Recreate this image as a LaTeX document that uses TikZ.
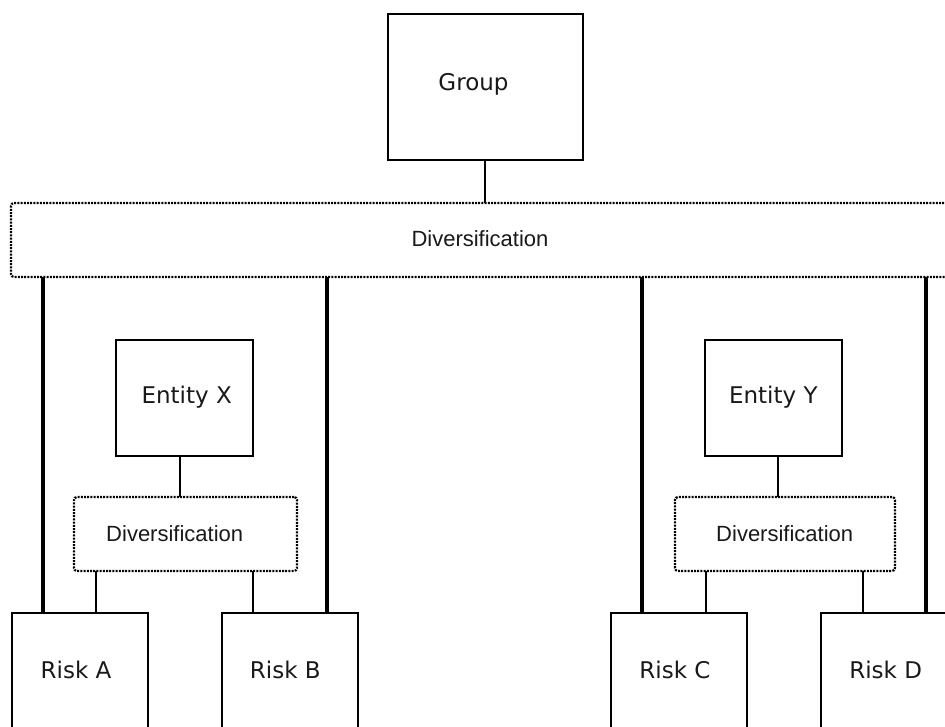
\documentclass[tikz,border=0pt]{standalone}
\usepackage{fontspec}
\newfontfamily\boxfont{DejaVu Sans}
\newfontfamily\divfont{Liberation Sans}
\begin{document}
\begin{tikzpicture}[x=1pt,y=-1pt,
  solidbox/.style={draw, line width=1.5pt, rectangle, inner sep=0pt, outer sep=0pt},
  dotbox/.style={draw, line width=2.2pt, dash pattern=on 2pt off 1.2pt,
    rounded corners=3pt, rectangle, inner sep=0pt, outer sep=0pt},
  thinlink/.style={line width=1.5pt},
  thicklink/.style={line width=4pt},
  boxlabel/.style={anchor=base, inner sep=0pt, text=black!90, font=\boxfont\fontsize{23}{27}\selectfont},
  divlabel/.style={anchor=base, inner sep=0pt, text=black!90, font=\divfont\fontsize{22}{26}\selectfont}]
\useasboundingbox (0,0) rectangle (945,726);
\clip (0,0) rectangle (945,726);
\fill[white] (0,0) rectangle (945,726);

% boxes
\node[solidbox, minimum width=195pt, minimum height=146pt] (group) at (485.5,87) {};
\node[dotbox, minimum width=949pt, minimum height=74pt] (bigdiv) at (485.5,240) {};
\node[solidbox, minimum width=137pt, minimum height=116pt] (entX) at (184.5,398) {};
\node[solidbox, minimum width=137pt, minimum height=116pt] (entY) at (773.5,398) {};
\node[dotbox, minimum width=223pt, minimum height=74pt] (divX) at (185.5,534) {};
\node[dotbox, minimum width=220pt, minimum height=74pt] (divY) at (785,534) {};
\node[solidbox, minimum width=136pt, minimum height=130pt, anchor=north west] (riskA) at (12,613) {};
\node[solidbox, minimum width=136pt, minimum height=130pt, anchor=north west] (riskB) at (222,613) {};
\node[solidbox, minimum width=136pt, minimum height=130pt, anchor=north west] (riskC) at (611,613) {};
\node[solidbox, minimum width=136pt, minimum height=130pt, anchor=north west] (riskD) at (821,613) {};

% labels
\node[boxlabel] (tGroup) at (473.5,90) {Group};
\node[divlabel] (tBigDiv) at (480,246.7) {Diversification};
\node[boxlabel] (tEntX) at (186.7,403) {Entity X};
\node[boxlabel] (tEntY) at (773.3,403) {Entity Y};
\node[divlabel] (tDivX) at (174.7,541.7) {Diversification};
\node[divlabel] (tDivY) at (784.7,541.7) {Diversification};
\node[boxlabel] (tRiskA) at (76,678.3) {Risk A};
\node[boxlabel] (tRiskB) at (285.3,678.3) {Risk B};
\node[boxlabel] (tRiskC) at (675,678.3) {Risk C};
\node[boxlabel] (tRiskD) at (885.7,678.3) {Risk D};

% group to diversification
\draw[thinlink] (group.south -| 485,0) -- (bigdiv.north -| 485,0);

% entities to their diversification
\draw[thinlink] (entX.south -| 180,0) -- (divX.north -| 180,0);
\draw[thinlink] (entY.south -| 778,0) -- (divY.north -| 778,0);

% entity diversification to risks
\draw[thinlink] (divX.south -| 96,0) -- (riskA.north -| 96,0);
\draw[thinlink] (divX.south -| 253,0) -- (riskB.north -| 253,0);
\draw[thinlink] (divY.south -| 706,0) -- (riskC.north -| 706,0);
\draw[thinlink] (divY.south -| 863,0) -- (riskD.north -| 863,0);

% group diversification straight to risks
\draw[thicklink] (bigdiv.south -| 43,0) -- (riskA.north -| 43,0);
\draw[thicklink] (bigdiv.south -| 327,0) -- (riskB.north -| 327,0);
\draw[thicklink] (bigdiv.south -| 642,0) -- (riskC.north -| 642,0);
\draw[thicklink] (bigdiv.south -| 926,0) -- (riskD.north -| 926,0);
\end{tikzpicture}
\end{document}
